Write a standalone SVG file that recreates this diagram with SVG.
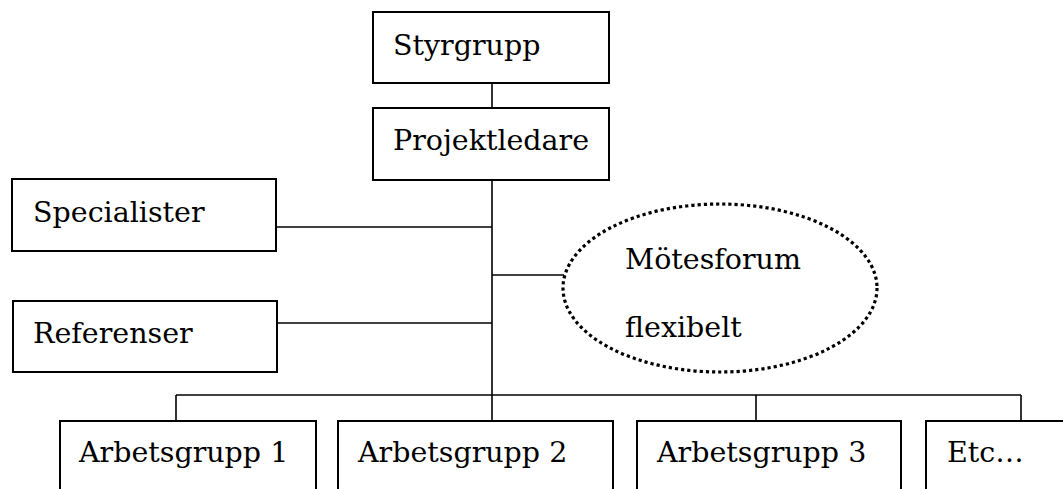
<svg xmlns="http://www.w3.org/2000/svg" width="1063" height="489" viewBox="0 0 1063 489">
<style>
.box{fill:#fff;stroke:#000;stroke-width:2}
.lbl{font-family:"DejaVu Serif","Liberation Serif",serif;font-size:28.5px;fill:#000}
.con{stroke:#000;stroke-width:1.6;fill:none}
.dot{fill:none;stroke:#000;stroke-width:3.2;stroke-dasharray:3.2 3}
</style>
<rect width="1063" height="489" fill="#fff"/>
<g id="connectors">
<line class="con" x1="492" y1="83" x2="492" y2="108"/>
<line class="con" x1="492" y1="180" x2="492" y2="421"/>
<line class="con" x1="276" y1="227" x2="492" y2="227"/>
<line class="con" x1="275" y1="323" x2="492" y2="323"/>
<line class="con" x1="492" y1="275" x2="564" y2="275"/>
<line class="con" x1="176" y1="395" x2="1021" y2="395"/>
<line class="con" x1="176" y1="395" x2="176" y2="427"/>
<line class="con" x1="756" y1="395" x2="756" y2="421"/>
<line class="con" x1="1021" y1="395" x2="1021" y2="421"/>
</g>
<g id="styrgrupp"><rect class="box" x="373" y="12" width="236" height="71"/><text class="lbl" x="393" y="55">Styrgrupp</text></g>
<g id="projektledare"><rect class="box" x="373" y="108" width="236" height="72"/><text class="lbl" x="393" y="150">Projektledare</text></g>
<g id="specialister"><rect class="box" x="12" y="179" width="264" height="72"/><text class="lbl" x="33" y="222">Specialister</text></g>
<g id="referenser"><rect class="box" x="13" y="301" width="264" height="71"/><text class="lbl" x="33" y="343">Referenser</text></g>
<g id="motesforum"><ellipse class="dot" cx="720" cy="288" rx="157" ry="84"/><text class="lbl" x="625" y="269">Mötesforum</text><text class="lbl" x="625" y="337">flexibelt</text></g>
<g id="arbetsgrupp1"><rect class="box" x="60" y="421" width="256" height="90"/><text class="lbl" x="79" y="462">Arbetsgrupp 1</text></g>
<g id="arbetsgrupp2"><rect class="box" x="338" y="421" width="275" height="90"/><text class="lbl" x="358" y="462">Arbetsgrupp 2</text></g>
<g id="arbetsgrupp3"><rect class="box" x="637" y="421" width="264" height="90"/><text class="lbl" x="657" y="462">Arbetsgrupp 3</text></g>
<g id="etc"><rect class="box" x="926" y="421" width="160" height="90"/><text class="lbl" x="947" y="462">Etc…</text></g>
</svg>
